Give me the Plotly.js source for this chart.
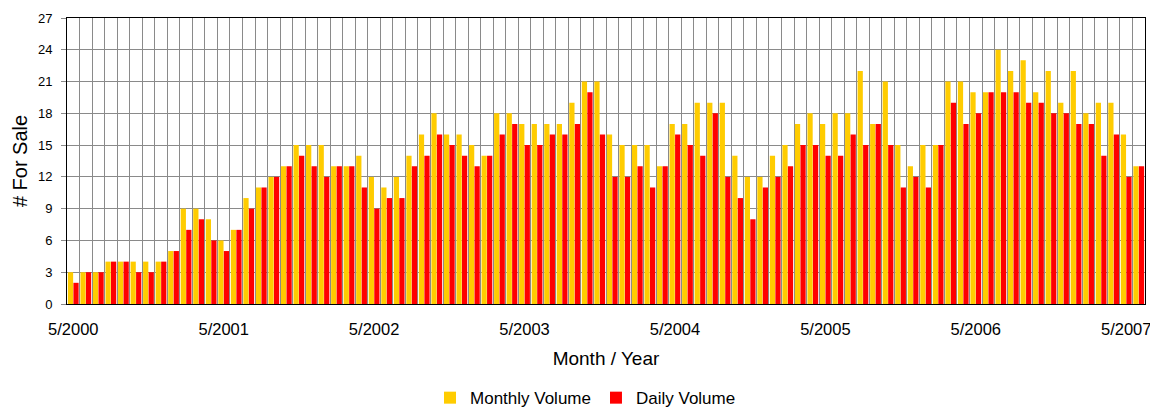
<!DOCTYPE html>
<html>
<head>
<meta charset="utf-8">
<script src="https://cdn.plot.ly/plotly-3.0.1.min.js"></script>
<style>html,body{margin:0;padding:0;background:#fff;}#chart{width:1150px;height:412px;}</style>
</head>
<body>
<div id="chart"></div>
<script>
// Categories: one per month, 5/2000 .. 6/2007
var months = [
  "5/2000","6/2000","7/2000","8/2000","9/2000","10/2000","11/2000","12/2000",
  "1/2001","2/2001","3/2001","4/2001","5/2001","6/2001","7/2001","8/2001","9/2001","10/2001","11/2001","12/2001",
  "1/2002","2/2002","3/2002","4/2002","5/2002","6/2002","7/2002","8/2002","9/2002","10/2002","11/2002","12/2002",
  "1/2003","2/2003","3/2003","4/2003","5/2003","6/2003","7/2003","8/2003","9/2003","10/2003","11/2003","12/2003",
  "1/2004","2/2004","3/2004","4/2004","5/2004","6/2004","7/2004","8/2004","9/2004","10/2004","11/2004","12/2004",
  "1/2005","2/2005","3/2005","4/2005","5/2005","6/2005","7/2005","8/2005","9/2005","10/2005","11/2005","12/2005",
  "1/2006","2/2006","3/2006","4/2006","5/2006","6/2006","7/2006","8/2006","9/2006","10/2006","11/2006","12/2006",
  "1/2007","2/2007","3/2007","4/2007","5/2007","6/2007"
];

// Series values
var monthlyVolume = [
  3,3,3,4,4,4,4,4,5,9,9,8,6,7,10,11,12,13,15,15,
  15,13,13,14,12,11,12,14,16,18,16,16,15,14,18,18,17,17,17,17,
  19,21,21,16,15,15,15,13,17,17,19,19,19,14,12,12,14,15,17,18,
  17,18,18,22,17,21,15,13,15,15,21,21,20,20,24,22,23,20,22,19,
  22,18,19,19,16,13
];
var dailyVolume = [
  2,3,3,4,4,3,3,4,5,7,8,6,5,7,9,11,12,13,14,13,
  12,13,13,11,9,10,10,13,14,16,15,14,13,14,16,17,15,15,16,16,
  17,20,16,12,12,13,11,13,16,15,14,18,12,10,8,11,12,13,15,15,
  14,14,16,15,17,15,11,12,11,15,19,17,18,20,20,20,19,19,18,18,
  17,17,14,16,12,13
];

// Tick labels shown on the x axis
var tickLabels = ["5/2000","5/2001","5/2002","5/2003","5/2004","5/2005","5/2006","5/2007"];

var seriesNames = ["Monthly Volume", "Daily Volume"];
var seriesColors = ["#FFCC00", "#FF0000"];

var FONT = "'Liberation Sans', Arial, sans-serif";

var traces = [
  {type: "bar", name: seriesNames[0], x: months, y: monthlyVolume,
   marker: {color: seriesColors[0], line: {width: 0}}, hoverinfo: "x+y"},
  {type: "bar", name: seriesNames[1], x: months, y: dailyVolume,
   marker: {color: seriesColors[1], line: {width: 0}}, hoverinfo: "x+y"}
];

var tickText = months.map(function (m) { return tickLabels.indexOf(m) >= 0 ? m : ""; });

var layout = {
  width: 1150, height: 412,
  margin: {l: 67, r: 5, t: 18, b: 108, pad: 0, autoexpand: false},
  paper_bgcolor: "#ffffff",
  plot_bgcolor: "#ffffff",
  font: {family: FONT, color: "#000000"},
  barmode: "group",
  bargap: 0.12,
  bargroupgap: 0.05,
  showlegend: true,
  legend: {
    orientation: "h",
    x: 0.481, xanchor: "center",
    y: -0.392, yanchor: "bottom",
    font: {family: FONT, size: 17, color: "#000000"},
    bgcolor: "rgba(0,0,0,0)",
    traceorder: "normal"
  },
  xaxis: {
    type: "category",
    range: [-0.5, months.length - 0.5],
    tickmode: "array",
    tickvals: months,
    ticktext: tickText,
    tickson: "boundaries",
    tickangle: 0,
    ticks: "",
    showgrid: true,
    gridcolor: "#8a8a8a",
    gridwidth: 1,
    showline: true,
    mirror: true,
    linecolor: "#000000",
    linewidth: 1,
    tickfont: {family: FONT, size: 16.5, color: "#000000"},
    ticklabelstandoff: 10,
    title: {text: "Month / Year", font: {family: FONT, size: 19, color: "#000000"}, standoff: 14},
    automargin: false,
    fixedrange: true
  },
  yaxis: {
    range: [0, 27],
    tick0: 0,
    dtick: 3,
    ticks: "outside",
    ticklen: 5,
    tickcolor: "#8a8a8a",
    showgrid: true,
    gridcolor: "#8a8a8a",
    gridwidth: 1,
    zeroline: false,
    showline: true,
    mirror: true,
    linecolor: "#000000",
    linewidth: 1,
    tickfont: {family: FONT, size: 13, color: "#000000"},
    ticklabelstandoff: 6,
    title: {text: "# For Sale", font: {family: FONT, size: 20, color: "#000000"}, standoff: 4},
    automargin: false,
    fixedrange: true
  }
};

Plotly.newPlot("chart", traces, layout, {displayModeBar: false, staticPlot: true});
</script>
</body>
</html>
